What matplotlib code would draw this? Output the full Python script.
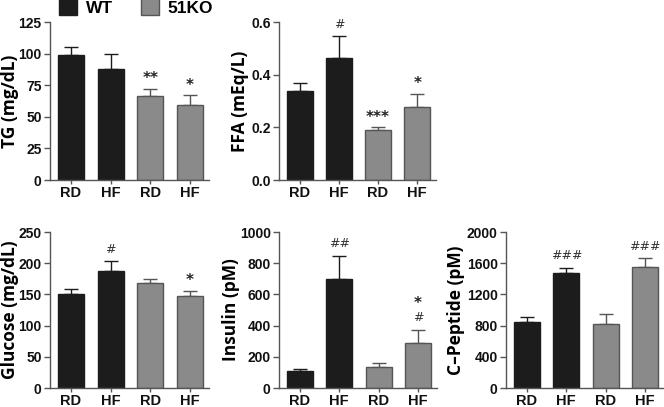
import matplotlib.pyplot as plt
from matplotlib.patches import Patch

groups = ['RD', 'HF', 'RD', 'HF']
legend_labels = ['WT', '51KO']

tg_mean = [98.6, 87.8, 66.5, 59.0]
tg_err = [6.4, 11.8, 5.8, 8.0]
ffa_mean = [0.338, 0.462, 0.191, 0.279]
ffa_err = [0.032, 0.083, 0.009, 0.048]
glu_mean = [150, 187, 168, 147]
glu_err = [8, 16, 7, 9]
ins_mean = [112, 698, 135, 290]
ins_err = [10, 148, 28, 82]
cpep_mean = [840, 1480, 825, 1550]
cpep_err = [72, 60, 120, 112]

# significance marks: (stars vs WT, hashes vs RD)
tg_stars = ['', '', '**', '*']
tg_hash = ['', '', '', '']
ffa_stars = ['', '', '***', '*']
ffa_hash = ['', '#', '', '']
glu_stars = ['', '', '', '*']
glu_hash = ['', '#', '', '']
ins_stars = ['', '', '', '*']
ins_hash = ['', '##', '', '#']
cpep_stars = ['', '', '', '']
cpep_hash = ['', '###', '', '###']

BLACK = '#1c1c1c'
GRAY = '#8a8a8a'
GRAY_EDGE = '#555555'
SPINE = '#555555'

panels = [
    # (rect px, means, errs, stars, hashes, ylabel, label right edge px, ymax, yticks, ticklabels)
    ([50, 22, 159, 158], tg_mean, tg_err, tg_stars, tg_hash, 'TG (mg/dL)', 19, 125,
     [0, 25, 50, 75, 100, 125], None),
    ([279, 22, 157, 158], ffa_mean, ffa_err, ffa_stars, ffa_hash, 'FFA (mEq/L)', 249, 0.6,
     [0, 0.2, 0.4, 0.6], ['0.0', '0.2', '0.4', '0.6']),
    ([50, 232, 159, 156], glu_mean, glu_err, glu_stars, glu_hash, 'Glucose (mg/dL)', 19, 250,
     [0, 50, 100, 150, 200, 250], None),
    ([279, 232, 158, 156], ins_mean, ins_err, ins_stars, ins_hash, 'Insulin (pM)', 240, 1000,
     [0, 200, 400, 600, 800, 1000], None),
    ([506, 232, 158, 156], cpep_mean, cpep_err, cpep_stars, cpep_hash, 'C\u2013Peptide (pM)', 465,
     2000, [0, 400, 800, 1200, 1600, 2000], None),
]

W, H = 664, 407
fig = plt.figure(figsize=(W / 100, H / 100), dpi=100)

colors = [BLACK, BLACK, GRAY, GRAY]
edges = [BLACK, BLACK, GRAY_EDGE, GRAY_EDGE]
x = range(len(groups))

for rect, means, errs, stars, hashes, ylabel, lab_x, ymax, yticks, ylabels in panels:
    l, t, w, h = rect
    ax = fig.add_axes([l / W, 1 - (t + h) / H, w / W, h / H])
    ax.bar(x, means, width=0.66, color=colors, edgecolor=edges, linewidth=1, zorder=2)
    for xi, m, e, c in zip(x, means, errs, edges):
        ax.errorbar(xi, m, yerr=[[0], [e]], fmt='none', ecolor=c, elinewidth=1,
                    capsize=5, capthick=1, zorder=1)
    # hashes sit right above the error bar, stars above those
    for xi, m, e, st, hs in zip(x, means, errs, stars, hashes):
        off = 4
        if hs:
            ax.annotate(hs, (xi, m + e), xytext=(0, off), textcoords='offset points',
                        ha='center', va='bottom', fontsize=9, color='#333333',
                        family='DejaVu Sans')
            off += 12
        if st:
            ax.annotate(st, (xi, m + e), xytext=(0, off - 2), textcoords='offset points',
                        ha='center', va='bottom', fontsize=11, color='#222222',
                        family='DejaVu Sans', fontweight='bold')
    ax.set_xlim(-0.53, 3.48)
    ax.set_ylim(0, ymax)
    ax.set_yticks(yticks)
    if ylabels:
        ax.set_yticklabels(ylabels)
    ax.set_xticks(list(x))
    ax.set_xticklabels(groups)
    for lab in ax.get_yticklabels():
        lab.set_fontfamily('Liberation Sans')
        lab.set_fontweight('bold')
        lab.set_fontsize(10)
    for lab in ax.get_xticklabels():
        lab.set_fontfamily('Liberation Sans')
        lab.set_fontweight('bold')
        lab.set_fontsize(10.5)
    ax.set_ylabel(ylabel, fontsize=12.5, fontweight='bold', family='Open Sans')
    ax.yaxis.set_label_coords((lab_x - l) / w, 0.5)
    for s in ['top', 'right']:
        ax.spines[s].set_visible(False)
    for s in ['left', 'bottom']:
        ax.spines[s].set_color(SPINE)
        ax.spines[s].set_linewidth(1)
    ax.tick_params(axis='y', colors=SPINE, width=1, length=4, pad=2,
                   labelcolor='#111111')
    ax.tick_params(axis='x', colors=SPINE, width=1, length=3, pad=1,
                   labelcolor='#111111')

handles = [Patch(facecolor=BLACK, edgecolor=BLACK),
           Patch(facecolor=GRAY, edgecolor=GRAY_EDGE)]
leg = fig.legend(handles, legend_labels, loc='center', ncol=2,
                 bbox_to_anchor=(136 / W, 1 - 7 / H), frameon=False,
                 handlelength=1.05, handleheight=1.1, handletextpad=0.5,
                 columnspacing=1.6, borderpad=0,
                 prop={'family': 'Liberation Sans', 'weight': 'bold', 'size': 12.5})

fig.savefig('out.png', dpi=100)
